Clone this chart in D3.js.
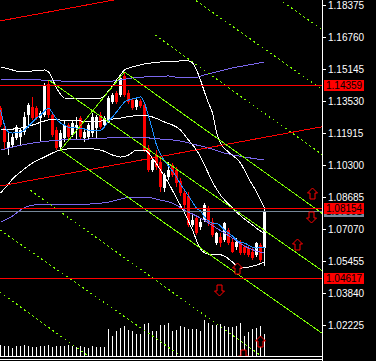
<!DOCTYPE html>
<html>
<head>
<meta charset="utf-8">
<script src="https://cdn.jsdelivr.net/npm/d3@7"></script>
<style>
  html, body { margin: 0; padding: 0; background: #000; }
  svg { display: block; }
</style>
</head>
<body>
<div id="chart"></div>
<script>
// ---- candles (EURUSD-like, oldest first) ----
const opens = [1.13176,1.12166,1.11156,1.11308,1.11661,1.11712,1.11964,1.12823,1.13227,1.13176,1.12671,1.12823,1.14388,1.12823,1.12065,1.11207,1.11661,1.12318,1.11813,1.12166,1.12671,1.11661,1.11712,1.11914,1.12166,1.12823,1.12318,1.12469,1.13479,1.13934,1.13833,1.14792,1.13934,1.13580,1.13227,1.13530,1.13328,1.11156,1.10045,1.10803,1.10449,1.09136,1.09692,1.10298,1.10045,1.09490,1.08884,1.08732,1.07268,1.07621,1.07167,1.07520,1.08126,1.07419,1.06359,1.06662,1.06510,1.07015,1.06409,1.06157,1.06409,1.06157,1.06106,1.05904,1.05753,1.06258,1.06106]
const highs = [1.13277,1.12318,1.11914,1.11914,1.12318,1.12166,1.12974,1.13429,1.13732,1.13277,1.13025,1.14439,1.14590,1.12974,1.12217,1.12065,1.12570,1.12419,1.12520,1.12722,1.12772,1.12166,1.12419,1.12924,1.12823,1.12974,1.12772,1.13782,1.13934,1.14035,1.14843,1.14994,1.14085,1.13681,1.13681,1.13631,1.13429,1.11308,1.10651,1.11055,1.10651,1.09894,1.10449,1.10399,1.10197,1.09641,1.09035,1.08934,1.07773,1.07773,1.07621,1.08379,1.08227,1.07621,1.06914,1.06864,1.07419,1.07116,1.06611,1.06611,1.06510,1.06258,1.06207,1.06106,1.06409,1.06359,1.08126]
const lows = [1.12217,1.11055,1.10803,1.11156,1.11560,1.11308,1.11813,1.12166,1.12570,1.12570,1.11459,1.12722,1.12671,1.11712,1.11055,1.11106,1.11459,1.11560,1.11712,1.11560,1.11560,1.11459,1.11560,1.11712,1.11661,1.12116,1.12217,1.12419,1.13378,1.13378,1.13732,1.13732,1.13378,1.13075,1.13075,1.13176,1.10954,1.09944,1.09944,1.10045,1.08934,1.08934,1.09540,1.09692,1.09187,1.08732,1.08126,1.07167,1.07167,1.06763,1.07015,1.07419,1.07217,1.06662,1.06258,1.06157,1.06409,1.06258,1.05854,1.06005,1.05753,1.05753,1.05652,1.05500,1.05652,1.05399,1.05197]
const closes = [1.12318,1.11459,1.11459,1.11712,1.12217,1.12065,1.12722,1.13328,1.12671,1.12671,1.12924,1.14338,1.12823,1.11813,1.11156,1.11914,1.12318,1.11712,1.12419,1.12318,1.11712,1.11964,1.12318,1.12722,1.12722,1.12217,1.12671,1.13681,1.13833,1.13479,1.14691,1.13833,1.13479,1.13176,1.13580,1.13277,1.11055,1.10045,1.10550,1.10197,1.09187,1.09793,1.10045,1.09793,1.09389,1.08884,1.08278,1.07268,1.07520,1.06864,1.07419,1.08278,1.07369,1.06763,1.06864,1.06359,1.07369,1.06359,1.05904,1.06409,1.05854,1.05854,1.05753,1.05601,1.06359,1.05500,1.07991]
const volumes = [11,10,10,8,10,10,11,10,9,9,10,10,11,9,10,10,10,11,10,9,10,9,8,10,9,9,9,27,20,25,28,30,26,25,22,22,32,33,25,25,31,31,33,25,26,30,29,27,27,27,25,36,33,31,31,32,30,29,29,30,33,20,24,27,28,30,22]

// ---- indicators: [bar, price] ----
const bbUpper = [[0,1.15247],[3,1.15095],[5,1.14994],[8,1.15045],[11,1.15095],[12,1.14994],[13,1.14641],[14,1.14186],[15,1.13883],[16,1.13681],[20,1.13681],[25,1.13681],[26,1.13782],[27,1.14035],[28,1.14287],[29,1.14590],[30,1.14843],[31,1.15095],[33,1.15247],[36,1.15398],[40,1.15499],[45,1.15550],[47,1.15550],[48,1.15449],[49,1.15095],[50,1.14590],[51,1.13984],[52,1.13429],[53,1.12924],[54,1.11964],[55,1.11409],[57,1.10954],[60,1.10399],[62,1.09641],[64,1.08934],[66,1.08126]]
const bbMiddle = [[0,1.12065],[5,1.12166],[8,1.12318],[11,1.12520],[13,1.12621],[15,1.12570],[20,1.12520],[25,1.12520],[28,1.12621],[30,1.12671],[33,1.12772],[36,1.12823],[38,1.12722],[41,1.12469],[45,1.12065],[47,1.11560],[49,1.11055],[51,1.10298],[53,1.09439],[55,1.08783],[57,1.08328],[59,1.07924],[61,1.07571],[63,1.07268],[65,1.06965],[66,1.06864]]
const bbLower = [[0,1.08884],[2,1.09338],[3,1.09591],[5,1.09944],[8,1.10399],[11,1.10702],[13,1.10904],[15,1.11055],[20,1.11156],[25,1.11055],[28,1.10803],[30,1.10702],[32,1.10803],[34,1.11055],[36,1.11055],[38,1.10651],[40,1.10045],[42,1.09389],[44,1.08631],[46,1.07874],[48,1.07015],[50,1.06056],[52,1.05803],[54,1.05803],[56,1.05702],[58,1.05399],[60,1.05096],[62,1.05147],[64,1.05248],[66,1.05399]]
const envUpper = [[0,1.14590],[10,1.14590],[20,1.14489],[25,1.14489],[30,1.14590],[33,1.14691],[36,1.14742],[42,1.14792],[45,1.14691],[48,1.14691],[51,1.14843],[55,1.15045],[58,1.15196],[62,1.15348],[66,1.15499]]
const envMiddle = [[0,1.11055],[8,1.11409],[15,1.11560],[22,1.11611],[33,1.11712],[40,1.11611],[45,1.11510],[48,1.11358],[52,1.11156],[56,1.10904],[61,1.10702],[66,1.10550]]
const envLower = [[0,1.07419],[3,1.07722],[5,1.08025],[8,1.08278],[15,1.08328],[22,1.08328],[27,1.08429],[30,1.08581],[33,1.08682],[36,1.08682],[40,1.08530],[43,1.08379],[46,1.08025],[50,1.07621],[54,1.07116],[58,1.06611],[61,1.06207],[64,1.05955],[66,1.05854]]
const fastMA = [1.13075,1.12318,1.11964,1.11914,1.11964,1.11964,1.12065,1.12267,1.12469,1.12671,1.12823,1.13025,1.13176,1.12924,1.12621,1.12419,1.12318,1.12217,1.12217,1.12166,1.12166,1.12116,1.12065,1.12065,1.12065,1.12065,1.12217,1.12520,1.12722,1.12974,1.13227,1.13479,1.13580,1.13631,1.13681,1.13732,1.13429,1.12772,1.12065,1.11308,1.10853,1.10500,1.10247,1.09995,1.09692,1.09338,1.09035,1.08732,1.08429,1.08126,1.07975,1.07672,1.07470,1.07369,1.07369,1.07217,1.07015,1.06864,1.06712,1.06510,1.06409,1.06359,1.06258,1.06157,1.06106,1.06157,1.06157]

// ---- chart objects ----
const levels = [1.14359, 1.08154, 1.04617]
const bidPrice = 1.07991
const tickValues = [1.18375,1.16760,1.15145,1.13530,1.11915,1.10300,1.08685,1.07070,1.05455,1.03840,1.02225]
// trend lines: [bar1, price1, bar2, price2]
const redChannel = [[0,1.09242,80,1.12216],[0,1.17575,30,1.18691]]
const greenRays = [[31,1.14994,80,1.07919],[12,1.14590,80,1.05025],[15,1.11055,80,1.01864]]
const greenSegments = [[15,1.11055,31,1.14994]]
const dottedLines = [[50,1.18433,80,1.14166],[72,1.18327,80,1.17196],[0,1.06999,44,1.00824],[0,1.03864,22,1.00647]]
const dottedRays = [[38.6,1.16863,80,1.10888],[7.4,1.09035,66,1.00546]]
const arrowsUp = [[77.9,1.08883],[74.1,1.06308],[59.1,1.05096],[64.9,1.01410]]
const arrowsDown = [[77.6,1.07672],[54.6,1.03985],[60.6,1.00728]]

const width = 376, height = 361
const plotW = 322, plotH = 357

const x = d3.scaleLinear().domain([0, 66]).range([0.5, 264.5])
const y = d3.scaleLinear().domain([1.02225, 1.18375]).range([325, 5])
const v = d3.scaleLinear().domain([0, 36]).range([356, 320])

const RED = "#ff0000", GREEN = "#7cfc00", BLUE = "#1e90ff", SLATE = "#7b68ee", GRAY = "#778899"
const FONT = "10px 'Liberation Sans', Arial, sans-serif"

const svg = d3.select("#chart").append("svg")
    .attr("width", width)
    .attr("height", height)
    .style("background", "#000")

svg.append("defs").append("clipPath").attr("id", "plot")
  .append("rect").attr("x", 0).attr("y", 0).attr("width", plotW).attr("height", plotH)

const g = svg.append("g").attr("clip-path", "url(#plot)").attr("shape-rendering", "crispEdges")

// volumes
g.append("g").selectAll("line")
  .data(volumes)
  .join("line")
    .attr("x1", (d, i) => x(i)).attr("x2", (d, i) => x(i))
    .attr("y1", v(0)).attr("y2", d => v(d))
    .attr("stroke", "#fff")

// candles
const idx = d3.range(opens.length)
const candle = g.append("g").selectAll("g").data(idx).join("g")
const col = i => closes[i] >= opens[i] ? "#fff" : RED
candle.append("line")
    .attr("x1", i => x(i)).attr("x2", i => x(i))
    .attr("y1", i => y(highs[i])).attr("y2", i => y(lows[i]))
    .attr("stroke", col)
candle.append("rect")
    .attr("x", i => x(i) - 1.5)
    .attr("width", 3)
    .attr("y", i => y(Math.max(opens[i], closes[i])))
    .attr("height", i => Math.max(1, Math.abs(y(opens[i]) - y(closes[i]))))
    .attr("fill", col)

// indicator lines
const line = d3.line().x(d => x(d[0])).y(d => y(d[1])).curve(d3.curveMonotoneX)
;[[envUpper, SLATE], [envMiddle, SLATE], [envLower, SLATE],
  [bbUpper, "#fff"], [bbMiddle, "#fff"], [bbLower, "#fff"],
  [fastMA.map((p, i) => [i, p]), BLUE]].forEach(([data, c]) => {
  g.append("path").datum(data)
    .attr("d", line)
    .attr("fill", "none")
    .attr("stroke", c)
    .attr("stroke-width", 1)
})

// trend lines, extended to the plot edges
function extend(d, left, right) {
  const x1 = x(d[0]), y1 = y(d[1]), x2 = x(d[2]), y2 = y(d[3])
  const k = (y2 - y1) / (x2 - x1)
  const a = left ? 0 : x1, b = right ? plotW : x2
  return [a, y1 + k * (a - x1), b, y1 + k * (b - x1)]
}
function drawLines(data, left, right, stroke, dash) {
  g.append("g").selectAll("line")
    .data(data.map(d => extend(d, left, right)))
    .join("line")
      .attr("x1", d => d[0]).attr("y1", d => d[1])
      .attr("x2", d => d[2]).attr("y2", d => d[3])
      .attr("stroke", stroke)
      .attr("stroke-dasharray", dash)
}
drawLines(redChannel, true, true, RED, null)
drawLines(dottedLines, true, true, GREEN, "2,3")
drawLines(dottedRays, false, true, GREEN, "2,3")
drawLines(greenRays, false, true, GREEN, null)
drawLines(greenSegments, false, false, GREEN, null)

// horizontal levels + bid
g.append("g").selectAll("line").data(levels).join("line")
    .attr("x1", 0).attr("x2", plotW)
    .attr("y1", d => Math.round(y(d)) + 0.5).attr("y2", d => Math.round(y(d)) + 0.5)
    .attr("stroke", RED)
g.append("line")
    .attr("x1", 0).attr("x2", plotW)
    .attr("y1", Math.round(y(bidPrice)) + 0.5).attr("y2", Math.round(y(bidPrice)) + 0.5)
    .attr("stroke", GRAY)

// fractal arrows (hollow)
const upArrow = "M0,-5.5L5,-0.5L2.5,-0.5L2.5,5.5L-2.5,5.5L-2.5,-0.5L-5,-0.5Z"
const arrows = arrowsUp.map(d => [d, 1]).concat(arrowsDown.map(d => [d, -1]))
g.append("g").selectAll("path").data(arrows).join("path")
    .attr("d", upArrow)
    .attr("transform", d => `translate(${Math.round(x(d[0][0])) + 0.5},${Math.round(y(d[0][1])) + 0.5}) scale(1,${d[1]})`)
    .attr("fill", "#000")
    .attr("stroke", RED)
    .attr("shape-rendering", "auto")

// bottom border lines
svg.append("g").attr("shape-rendering", "crispEdges").selectAll("line")
  .data([356.5, 359.5]).join("line")
    .attr("x1", 0).attr("x2", plotW)
    .attr("y1", d => d).attr("y2", d => d)
    .attr("stroke", "#fff")

// price axis
const axis = svg.append("g")
    .attr("transform", `translate(${plotW},0)`)
    .attr("shape-rendering", "crispEdges")
    .call(d3.axisRight(y).tickValues(tickValues).tickFormat(d3.format(".5f")).tickSize(4).tickPadding(2))
axis.select(".domain").remove()
axis.selectAll(".tick line").attr("stroke", "#fff")
axis.selectAll(".tick text")
    .attr("fill", "#fff")
    .style("font", FONT)
axis.append("line")
    .attr("x1", 0.5).attr("x2", 0.5).attr("y1", 0).attr("y2", height)
    .attr("stroke", "#fff")

// price labels (bid label sits partly under the level label above it, as in the terminal)
function label(price, fill) {
  const cy = Math.round(y(price))
  const lg = svg.append("g")
  lg.append("rect")
    .attr("x", plotW + 2).attr("y", cy - 5).attr("width", 40).attr("height", 11)
    .attr("fill", fill)
  lg.append("text")
    .attr("x", plotW + 4).attr("y", cy + 0.5).attr("dy", "0.35em")
    .attr("fill", "#000")
    .style("font", FONT)
    .text(d3.format(".5f")(price))
}
label(bidPrice, GRAY)
levels.forEach(p => label(p, RED))
</script>
</body>
</html>
